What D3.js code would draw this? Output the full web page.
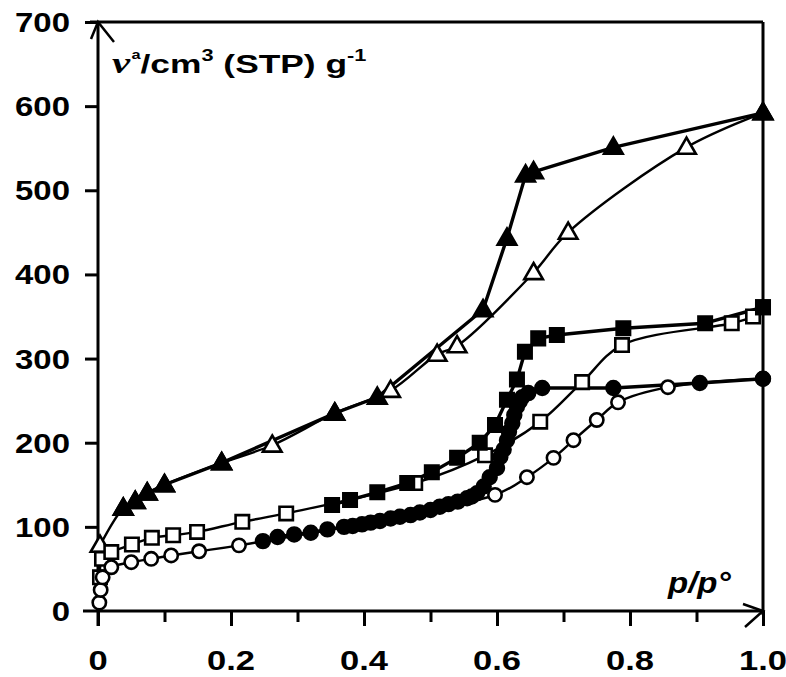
<!DOCTYPE html>
<html><head><meta charset="utf-8">
<script src="https://cdn.jsdelivr.net/npm/d3@7"></script>
<style>
html,body{margin:0;padding:0;background:#fff;}
svg{display:block;}
text{font-family:"Liberation Sans",Arial,sans-serif;font-weight:bold;fill:#000;}
</style></head>
<body>
<svg id="chart" width="786" height="677"></svg>
<script>
// ---- data (p/p°, adsorbed volume cm3 STP g-1) ----
const xTicksMajor = [0, 0.2, 0.4, 0.6, 0.8, 1.0];
const xTickLabels = ["0", "0.2", "0.4", "0.6", "0.8", "1.0"];
const xTicksMinor = [0.1, 0.3, 0.5, 0.7, 0.9];
const yTicks = [0, 100, 200, 300, 400, 500, 600, 700];
const yTickLabels = ["0", "100", "200", "300", "400", "500", "600", "700"];

// triangles
const triOpen = [[0.003,78],[0.038,122],[0.056,130],[0.074,140],[0.10,150],[0.186,176],[0.262,197],[0.356,235],[0.44,262],[0.51,305],[0.54,315],[0.655,402],[0.707,450],[0.885,551],[1.0,592]];
const triFilled = [[1.0,592],[0.775,551],[0.655,522],[0.643,518],[0.615,443],[0.579,358],[0.42,254],[0.356,235],[0.186,176],[0.10,150],[0.074,140],[0.056,130],[0.038,122]];
// squares
const sqOpen = [[0.003,40],[0.006,62],[0.02,70],[0.051,79],[0.081,87],[0.113,90],[0.149,94],[0.217,106],[0.283,116],[0.477,152],[0.582,185],[0.665,225],[0.728,272],[0.788,316],[0.953,342],[0.985,350],[1.0,361]];
const sqFilled = [[1.0,361],[0.913,342],[0.79,336],[0.69,328],[0.662,324],[0.642,308],[0.63,275],[0.615,251],[0.597,221],[0.574,200],[0.54,182],[0.502,165],[0.465,152],[0.42,141],[0.379,132],[0.352,126]];
// circles
const cirOpen = [[0.002,10],[0.004,25],[0.007,40],[0.02,52],[0.05,58],[0.08,62],[0.11,66],[0.152,71],[0.212,78],[0.597,138],[0.645,159],[0.685,182],[0.715,203],[0.75,227],[0.782,248],[0.857,266],[1.0,276]];
const cirFilled = [[1.0,276],[0.905,271],[0.775,265],[0.668,265],[0.647,259],[0.638,254],[0.634,249],[0.63,243],[0.626,233],[0.623,223],[0.618,213],[0.615,203],[0.61,192],[0.605,183],[0.6,170],[0.589,159],[0.58,148],[0.57,140],[0.562,136],[0.555,134],[0.541,130],[0.527,127],[0.514,124],[0.5,120],[0.484,117],[0.47,114],[0.454,112],[0.44,110],[0.424,107],[0.41,105],[0.397,103],[0.383,101],[0.37,100],[0.345,97],[0.32,93],[0.295,91],[0.27,88],[0.248,83]];

// ---- layout ----
const svg = d3.select("#chart");
const x = d3.scaleLinear().domain([0, 1]).range([98, 763]);
const y = d3.scaleLinear().domain([0, 700]).range([611, 22]);

// frame (top and right)
svg.append("line").attr("x1", 90).attr("x2", x(1)).attr("y1", y(700)).attr("y2", y(700)).attr("stroke","#000").attr("stroke-width",3);
svg.append("line").attr("x1", x(1)).attr("x2", x(1)).attr("y1", y(700)).attr("y2", y(0)+4).attr("stroke","#000").attr("stroke-width",3);

// x axis
const gx = svg.append("g").attr("transform", `translate(0,${y(0)})`)
  .call(d3.axisBottom(x).tickValues(xTicksMajor).tickSize(15).tickSizeOuter(0).tickFormat(""));
gx.select(".domain").attr("d", `M${x(0)-15},0H${x(1)}`).attr("stroke-width", 3);
gx.selectAll(".tick line").attr("stroke-width", 3);
const gxm = svg.append("g").attr("transform", `translate(0,${y(0)})`)
  .call(d3.axisBottom(x).tickValues(xTicksMinor).tickSize(11).tickSizeOuter(0).tickFormat(""));
gxm.select(".domain").remove();
gxm.selectAll(".tick line").attr("stroke-width", 3);

// y axis
const gy = svg.append("g").attr("transform", `translate(${x(0)},0)`)
  .call(d3.axisLeft(y).tickValues(yTicks.slice(1)).tickSize(13).tickSizeOuter(0).tickFormat(""));
gy.select(".domain").attr("d", `M0,${y(700)}V${y(0)+15}`).attr("stroke-width", 3);
gy.selectAll(".tick line").attr("stroke-width", 3);

// arrow heads
svg.append("path").attr("d", `M${x(0)-7},${y(700)+17}L${x(0)},${y(700)}L${x(0)+16},${y(700)+20}`)
  .attr("fill","none").attr("stroke","#000").attr("stroke-width",2.5);
svg.append("path").attr("d", `M${x(1)-20},${y(0)-7}L${x(1)},${y(0)}L${x(1)-18},${y(0)+16}`)
  .attr("fill","none").attr("stroke","#000").attr("stroke-width",2.5);

// tick labels
svg.append("g").selectAll("text").data(xTicksMajor).join("text")
  .attr("transform", (d) => `translate(${x(d)},670) scale(1.28,1)`)
  .attr("text-anchor","middle").attr("font-size",27)
  .text((d,i) => xTickLabels[i]);
svg.append("g").selectAll("text").data(yTicks).join("text")
  .attr("transform", (d) => `translate(70,${y(d)+10}) scale(1.22,1)`)
  .attr("text-anchor","end").attr("font-size",27)
  .text((d,i) => yTickLabels[i]);

// axis titles
const t = svg.append("text").attr("transform","translate(112,73) scale(1.36,1)").attr("font-size",26);
t.append("tspan").attr("font-family","Liberation Serif, serif").attr("font-style","italic").attr("font-size",30).text("v");
t.append("tspan").attr("font-size",12).attr("dy",-14).attr("dx",1).text("a");
t.append("tspan").attr("dy",14).text("/cm");
t.append("tspan").attr("font-size",16).attr("dy",-12).text("3");
t.append("tspan").attr("dy",12).text(" (STP) g");
t.append("tspan").attr("font-size",16).attr("dy",-12).text("-1");
svg.append("text").attr("transform","translate(668,593) scale(1.1,1)").attr("font-size",30).attr("font-style","italic").text("p/p°");

// ---- series ----
const lineLin = d3.line().x(d => x(d[0])).y(d => y(d[1]));
const lineCurve = d3.line().x(d => x(d[0])).y(d => y(d[1])).curve(d3.curveCatmullRom.alpha(0.5));

const series = [
  {data: triOpen, sym: d3.symbolTriangle, size: 150, filled: false, curve: true},
  {data: sqOpen, sym: d3.symbolSquare, size: 180, filled: false, curve: true},
  {data: cirOpen, sym: d3.symbolCircle, size: 140, filled: false, curve: true},
  {data: triFilled, sym: d3.symbolTriangle, size: 150, filled: true, curve: false},
  {data: sqFilled, sym: d3.symbolSquare, size: 180, filled: true, curve: false},
  {data: cirFilled, sym: d3.symbolCircle, size: 150, filled: true, curve: false},
];
series.forEach(s => {
  svg.append("path").datum(s.data)
    .attr("d", s.curve ? lineCurve : lineLin)
    .attr("fill","none").attr("stroke","#000")
    .attr("stroke-width", s.filled ? 3.4 : 2.4).attr("stroke-linejoin","round");
});
series.forEach(s => {
  svg.append("g").selectAll("path").data(s.data).join("path")
    .attr("transform", d => `translate(${x(d[0])},${y(d[1]) + (s.sym === d3.symbolTriangle ? 1 : 0)})`)
    .attr("d", d3.symbol(s.sym, s.size))
    .attr("fill", s.filled ? "#000" : "#fff")
    .attr("stroke","#000").attr("stroke-width", 2.6);
});
</script>
</body></html>
